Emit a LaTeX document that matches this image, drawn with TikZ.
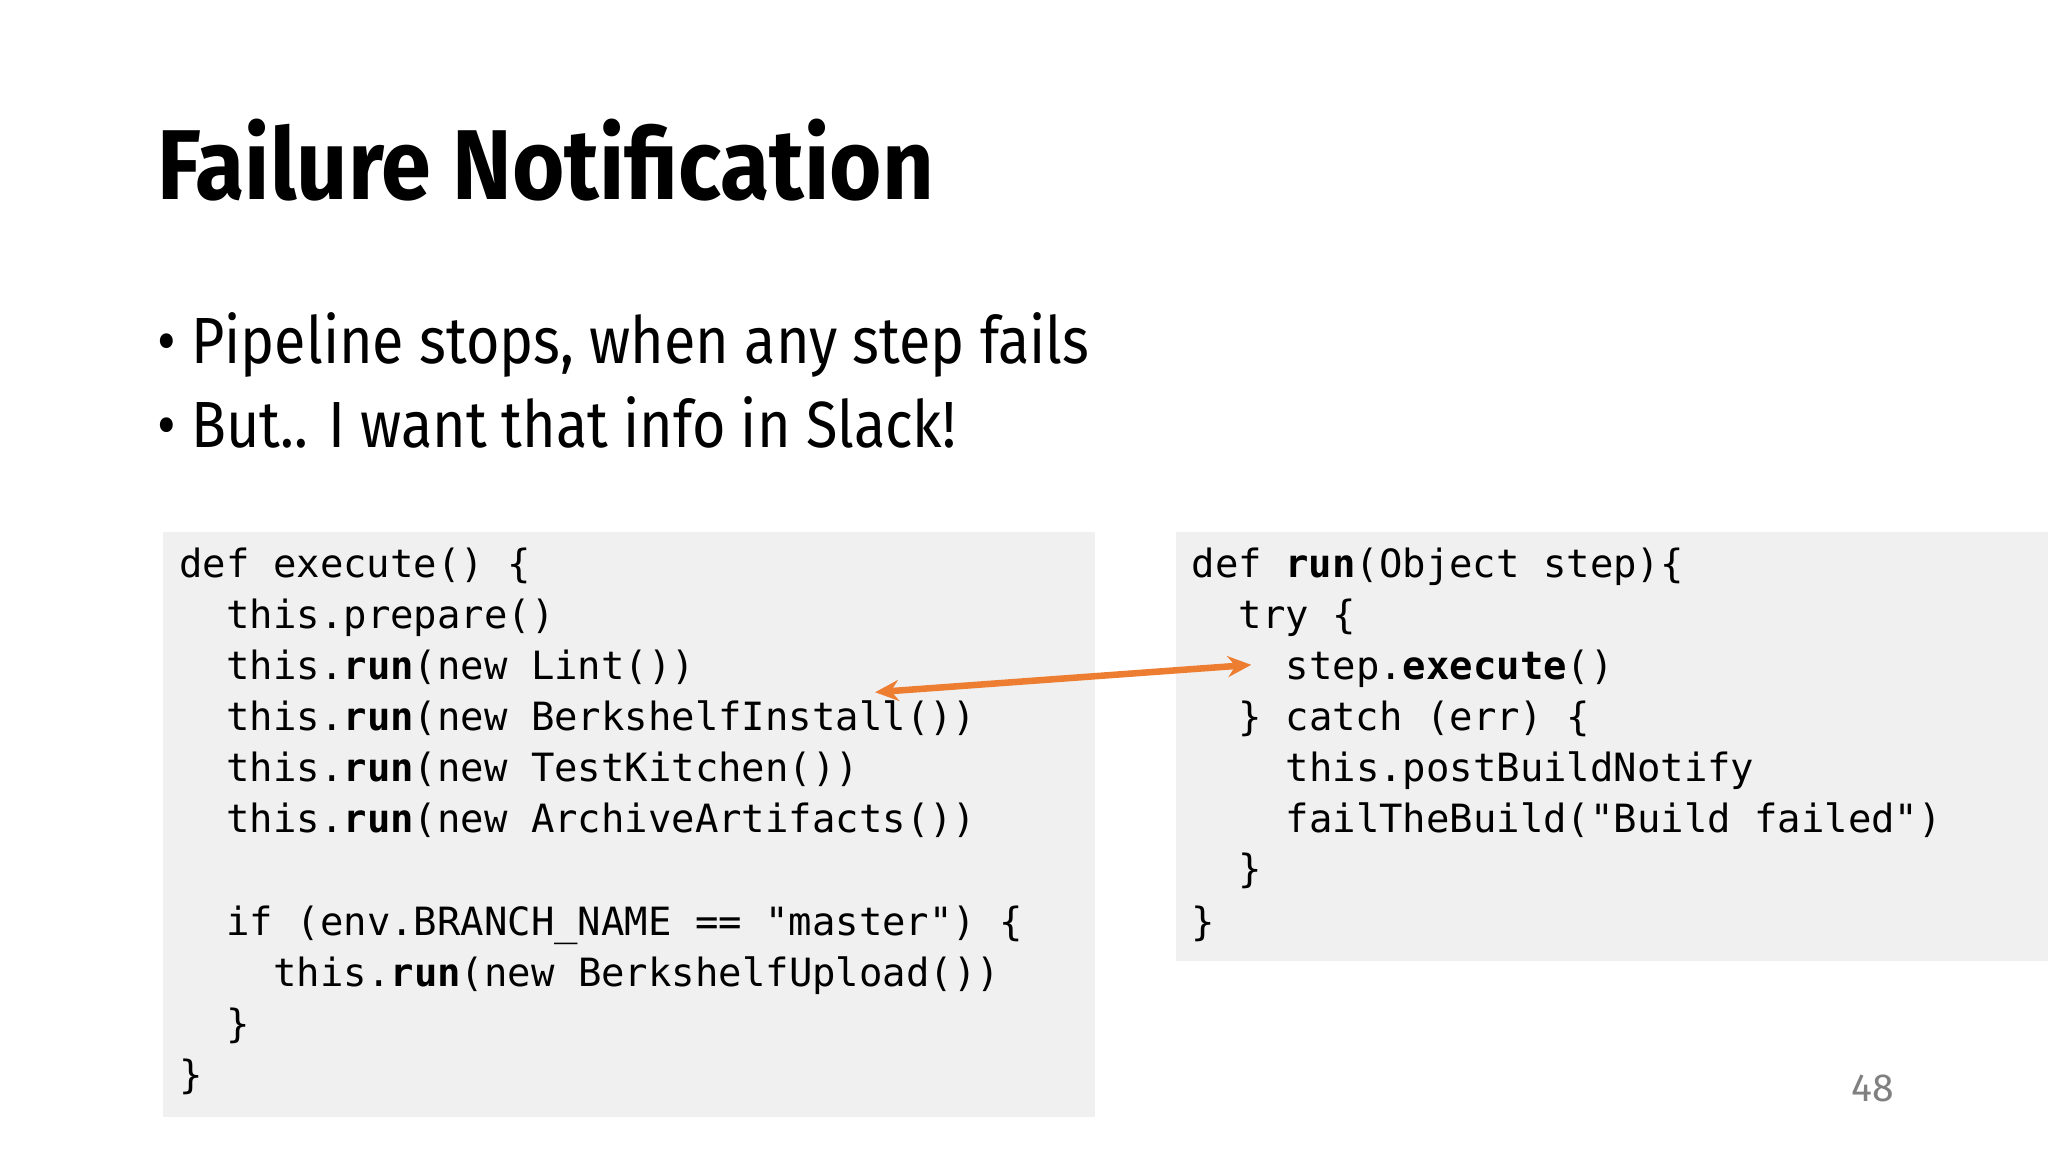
\documentclass[tikz,border=0pt]{standalone}
\usepackage{fontspec}
\usepackage{graphicx}
\usetikzlibrary{arrows.meta}
\setmainfont{Fira Sans}
\newfontfamily\codefont{DejaVu Sans Mono}
\definecolor{codebg}{HTML}{F0F0F0}
\definecolor{arr}{HTML}{ED7D31}
\begin{document}
\begin{tikzpicture}[x=0.5pt,y=-0.5pt,
  code/.style={anchor=base west,inner sep=0pt,font=\codefont\fontsize{14.9pt}{19.5pt}\selectfont},
  bul/.style={anchor=base west,inner sep=0pt,font=\fontsize{25pt}{30pt}\selectfont}]
\useasboundingbox (0,0) rectangle (1568,882);
\fill[white] (0,0) rectangle (1568,882);
\node[anchor=base west,inner sep=0pt,font=\bfseries\fontsize{38pt}{44pt}\selectfont] (title) at (120,153) {\scalebox{0.905}[1]{Failure Notification}};
\node[bul] (b1) at (120,278) {\scalebox{0.88}[1]{• Pipeline stops, when any step fails}};
\node[bul] (b2) at (120,343) {\scalebox{0.88}[1]{• But.. I want that info in Slack!}};
\fill[codebg] (125,407) rectangle (838,855);
\fill[codebg] (900,407) rectangle (1568,736);
% left code
\node[code] (l1) at (137,442) {def execute() \{};
\node[code] (l2) at (173,481) {this.prepare()};
\node[code] (l3) at (173,520) {this.\textbf{run}(new Lint())};
\node[code] (l4) at (173,559) {this.\textbf{run}(new BerkshelfInstall())};
\node[code] (l5) at (173,598) {this.\textbf{run}(new TestKitchen())};
\node[code] (l6) at (173,637) {this.\textbf{run}(new ArchiveArtifacts())};
\node[code] (l7) at (173,716) {if (env.BRANCH\_NAME == "master") \{};
\node[code] (l8) at (209,755) {this.\textbf{run}(new BerkshelfUpload())};
\node[code] (l9) at (173,794) {\}};
\node[code] (l10) at (137,833) {\}};
% right code
\node[code] (r1) at (912,442) {def \textbf{run}(Object step)\{};
\node[code] (r2) at (948,481) {try \{};
\node[code] (r3) at (984,520) {step.\textbf{execute}()};
\node[code] (r4) at (948,559) {\} catch (err) \{};
\node[code] (r5) at (984,598) {this.postBuildNotify};
\node[code] (r6) at (984,637) {failTheBuild("Build failed")};
\node[code] (r7) at (948,676) {\}};
\node[code] (r8) at (912,716) {\}};
\coordinate (aL) at (670,530);
\coordinate (aR) at (958,509);
\draw[arr,line width=2.5pt,{Stealth[length=9pt,width=8pt]}-{Stealth[length=9pt,width=8pt]}] (aL) -- (aR);
\node[anchor=base,inner sep=0pt,text=gray,font=\fontsize{15pt}{18pt}\selectfont] (pg) at (1434,843) {48};
\end{tikzpicture}
\end{document}
